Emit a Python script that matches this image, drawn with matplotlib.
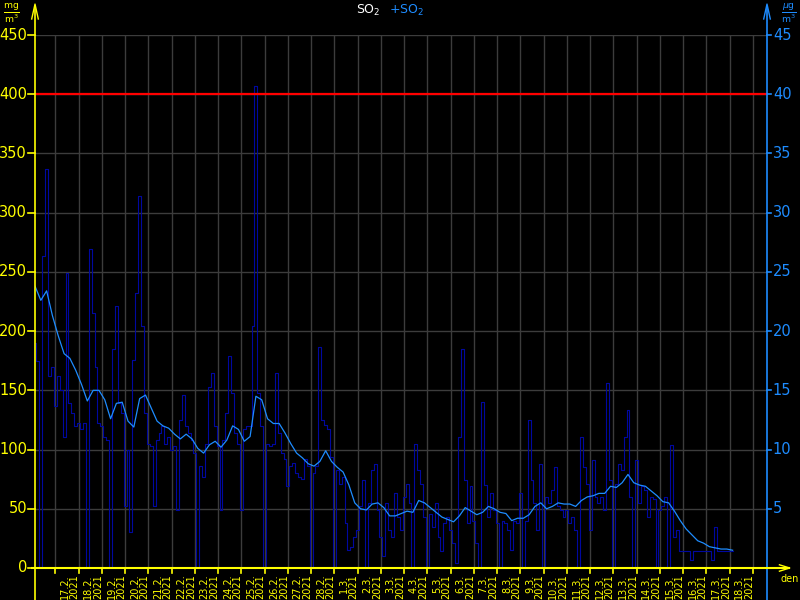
import numpy as np
import pandas as pd
import matplotlib
matplotlib.use('Agg')
import matplotlib.pyplot as plt

# time axis: hours from 17.2.2021 00:00
START = pd.Timestamp('2021-02-17')
RAW_T0, RAW_STEP = -21, 3
AVG_T0, AVG_STEP = -21, 6

# SO2 measured values (dark blue), one every 3 h
so2_raw = [190, 175, 0, 263, 337, 162, 170, 137, 162, 150,
           111, 249, 139, 131, 120, 122, 117, 122, 0, 269,
           215, 170, 122, 120, 111, 108, 0, 185, 221, 139,
           131, 52, 100, 30, 176, 232, 314, 204, 131, 105,
           103, 52, 108, 114, 120, 105, 111, 100, 103, 49,
           125, 146, 120, 114, 108, 97, 0, 86, 77, 105,
           153, 165, 120, 103, 49, 108, 131, 179, 148, 114,
           105, 49, 117, 120, 120, 204, 407, 148, 120, 0,
           105, 103, 105, 165, 114, 97, 92, 69, 86, 89,
           80, 77, 75, 92, 86, 0, 80, 86, 187, 125,
           121, 117, 94, 0, 83, 71, 77, 38, 15, 18,
           26, 32, 52, 74, 0, 55, 83, 88, 49, 26,
           10, 55, 32, 26, 63, 43, 32, 60, 71, 55,
           0, 105, 83, 71, 43, 0, 46, 35, 55, 26,
           14, 38, 43, 32, 21, 4, 111, 185, 74, 38,
           69, 40, 21, 0, 140, 70, 43, 63, 49, 38,
           0, 40, 38, 32, 15, 40, 38, 63, 0, 40,
           125, 74, 55, 32, 88, 0, 60, 55, 66, 85,
           52, 49, 43, 49, 38, 43, 32, 0, 111, 85,
           71, 32, 91, 60, 55, 60, 49, 156, 74, 0,
           71, 88, 83, 111, 133, 60, 0, 91, 55, 69,
           66, 43, 60, 58, 0, 49, 52, 60, 0, 104,
           26, 32, 14, 14, 14, 14, 7, 14, 14, 14,
           14, 14, 14, 7, 35, 14, 14, 14, 14, 14, 14]

# smoothed SO2 (light blue), one every 6 h
so2_avg = [238, 226, 234, 213, 196, 181, 177, 167, 155, 141,
           150, 150, 142, 126, 139, 140, 124, 119, 143, 146,
           135, 124, 120, 118, 113, 109, 113, 109, 101, 97,
           104, 107, 102, 108, 120, 117, 107, 111, 145, 142,
           126, 122, 122, 114, 105, 97, 93, 88, 86, 90,
           99, 90, 85, 81, 70, 55, 50, 49, 54, 55,
           51, 44, 44, 46, 48, 47, 57, 55, 51, 47,
           43, 41, 39, 44, 51, 48, 45, 47, 52, 50,
           47, 46, 40, 42, 42, 45, 52, 55, 50, 52,
           55, 54, 54, 52, 57, 60, 61, 63, 63, 69,
           68, 72, 79, 72, 70, 69, 65, 61, 56, 55,
           48, 40, 33, 28, 23, 21, 18, 17, 16, 16, 15]

LIMIT = 400
left_ticks = list(range(0, 451, 50))
right_ticks = list(range(5, 46, 5))
days = pd.date_range(START, periods=30, freq='D')

YEL = '#ffff00'
BLU = '#1e8cff'
DARK = '#0008a0'
GRID = '#3c3c3c'

t_raw = RAW_T0 + RAW_STEP * np.arange(len(so2_raw))
t_avg = AVG_T0 + AVG_STEP * np.arange(len(so2_avg))

fig = plt.figure(figsize=(8, 6), dpi=100, facecolor='black')
ax = fig.add_axes([35 / 800, 32 / 600, 732 / 800, 533 / 600], facecolor='black')
ax.set_xlim(-21, 734.5)
ax.set_ylim(0, 450)

for s in ax.spines.values():
    s.set_visible(False)

# grid
for k in range(len(days) + 1):
    ax.axvline(24 * k, color=GRID, lw=1, zorder=1)
for v in left_ticks[1:]:
    ax.axhline(v, color=GRID, lw=1, zorder=1)

ax.plot(t_raw, so2_raw, color=DARK, lw=0.8, drawstyle='steps-mid', zorder=3)
ax.plot(t_avg, so2_avg, color=BLU, lw=0.9, zorder=4)
ax.axhline(LIMIT, color='#ff0000', lw=1.6, zorder=5)

ax.set_xticks([])
ax.set_yticks([])

# left axis (yellow)
ax.plot([0, 0], [-0.06, 1.055], transform=ax.transAxes, color=YEL, lw=1.2, clip_on=False, zorder=6)
ax.plot([-0.0045, 0, 0.0045], [1.03, 1.058, 1.03], transform=ax.transAxes, color=YEL, lw=1, clip_on=False)
for v in left_ticks:
    ax.plot([-0.009, 0], [v, v], color=YEL, lw=1.2, clip_on=False,
            transform=ax.get_yaxis_transform())
    ax.text(-0.011, v, str(v), color=YEL, fontsize=10.5, ha='right', va='center',
            transform=ax.get_yaxis_transform())

# right axis (blue)
ax.plot([1, 1], [-0.06, 1.055], transform=ax.transAxes, color=BLU, lw=1.2, clip_on=False, zorder=6)
ax.plot([0.9955, 1, 1.0045], [1.03, 1.058, 1.03], transform=ax.transAxes, color=BLU, lw=1, clip_on=False)
for v in right_ticks:
    ax.plot([1, 1.006], [v * 10, v * 10], color=BLU, lw=1.2, clip_on=False,
            transform=ax.get_yaxis_transform())
    ax.text(1.008, v * 10, str(v), color=BLU, fontsize=10.5, ha='left', va='center',
            transform=ax.get_yaxis_transform())

# bottom axis
ax.plot([-0.004, 1.03], [0, 0], transform=ax.transAxes, color=YEL, lw=1.5, clip_on=False, zorder=6)
ax.plot([1.017, 1.031, 1.017], [0.006, 0, -0.006], transform=ax.transAxes, color=YEL, lw=1, clip_on=False)
ax.text(1.031, -0.012, 'den', color=YEL, fontsize=7, ha='center', va='top', transform=ax.transAxes)
for k in range(len(days) + 1):
    ax.plot([24 * k, 24 * k], [0, -0.01], color=YEL, lw=1.2, clip_on=False,
            transform=ax.get_xaxis_transform())
for k, d in enumerate(days):
    ax.text(24 * k + 15, -0.012, f'{d.day}.{d.month}.\n{d.year}', color=YEL, fontsize=7,
            rotation=90, ha='center', va='top', multialignment='right', linespacing=0.95,
            transform=ax.get_xaxis_transform())

# units and title
fig.text(0.004, 0.977, r'$\frac{\mathrm{mg}}{\mathrm{m}^3}$', color=YEL, fontsize=9.5, ha='left', va='center')
fig.text(0.996, 0.977, r'$\frac{\mu\mathrm{g}}{\mathrm{m}^3}$', color=BLU, fontsize=9.5, ha='right', va='center')
fig.text(0.46, 0.983, r'SO$_2$', color='white', fontsize=9, ha='center', va='center')
fig.text(0.508, 0.983, r'+SO$_2$', color=BLU, fontsize=9, ha='center', va='center')

fig.savefig('out.png', dpi=100, facecolor='black')
